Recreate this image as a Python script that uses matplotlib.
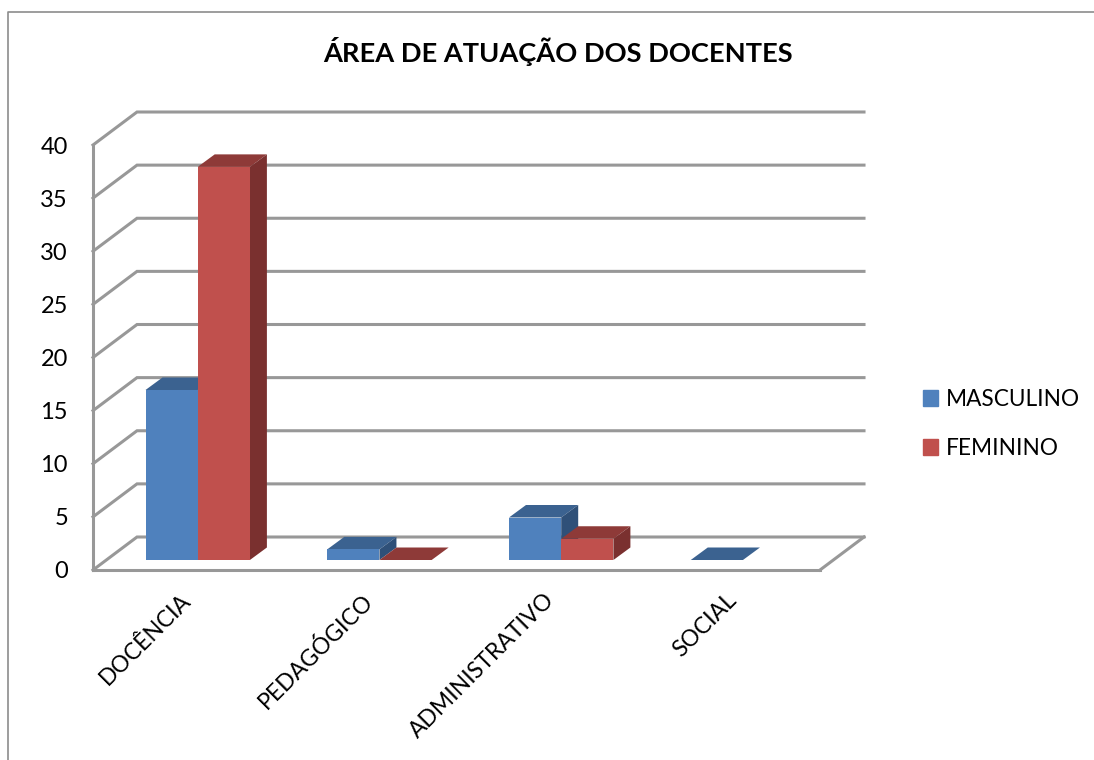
import matplotlib
matplotlib.use('Agg')
import matplotlib.pyplot as plt
from matplotlib.lines import Line2D
from matplotlib.patches import Patch

categorias = ['DOCÊNCIA', 'PEDAGÓGICO', 'ADMINISTRATIVO', 'SOCIAL']
masculino = [16, 1, 4, 0]
feminino = [37, 0, 2, None]
ticks_y = [0, 5, 10, 15, 20, 25, 30, 35, 40]

plt.rcParams['font.family'] = ['Lato', 'DejaVu Sans']

W, H = 1094, 760
GRIS = '#989898'
AZUL = ('#4F81BD', '#3B6290', '#2F5078')
ROJO = ('#C0504D', '#8E3A38', '#7A302F')

fig = plt.figure(figsize=(W / 100, H / 100), dpi=100)
fig.patch.set_facecolor('white')
# plano frontal del grafico, en pixeles de la imagen
ax = fig.add_axes([93 / W, (H - 570) / H, 727 / W, 425 / H])
ax.set_xlim(0, 4)
ax.set_ylim(0, 40)
ax.patch.set_visible(False)

px_x = 4 / 727
px_y = 40 / 425
prof_x, prof_y = 44 * px_x, 33 * px_y      # profundidad de las paredes
bar_x, bar_y = 17 * px_x, 12.5 * px_y      # profundidad de las barras
base = 10 * px_y
ini = 52.5 * px_x
ancho = 52.2 * px_x

# marco exterior
fig.add_artist(Line2D([8 / W, 8 / W, 1], [0, 1 - 12 / H, 1 - 12 / H], color='#8C8C8C', lw=1.2))

# paredes
for t in ticks_y:
    ax.plot([0, prof_x, 4 + prof_x], [t, t + prof_y, t + prof_y], color=GRIS, lw=2.2,
            clip_on=False, zorder=1, solid_joinstyle='miter')
ax.plot([4, 4 + prof_x], [0, prof_y], color=GRIS, lw=2.2, clip_on=False, zorder=1)


def barra(x, valor, colores, z):
    if valor is None:
        return
    top = base + valor
    ax.fill([x, x + ancho, x + ancho + bar_x, x + bar_x],
            [top, top, top + bar_y, top + bar_y], color=colores[1], lw=0, clip_on=False, zorder=z)
    if valor > 0:
        ax.fill([x + ancho, x + ancho + bar_x, x + ancho + bar_x, x + ancho],
                [base, base + bar_y, top + bar_y, top], color=colores[2], lw=0, clip_on=False, zorder=z)
        ax.bar(x, valor, width=ancho, bottom=base, align='edge', color=colores[0], lw=0,
               clip_on=False, zorder=z)


for i, (m, f) in enumerate(zip(masculino, feminino)):
    barra(i + ini, m, AZUL, 2)
    barra(i + ini + ancho, f, ROJO, 3)

for lado in ['top', 'right']:
    ax.spines[lado].set_visible(False)
for lado in ['left', 'bottom']:
    ax.spines[lado].set_color(GRIS)
    ax.spines[lado].set_linewidth(2.2)
    ax.spines[lado].set_zorder(1)

ax.set_yticks(ticks_y)
ax.tick_params(axis='y', length=0, pad=18, labelsize=17, labelcolor='black')
ax.set_xticks([i + 0.48 for i in range(len(categorias))])
ax.set_xticklabels(categorias, rotation=45, ha='right', rotation_mode='anchor', fontsize=16.5)
ax.tick_params(axis='x', length=0, pad=14, labelcolor='black')

fig.text(557.5 / W, 1 - 52 / H, 'ÁREA DE ATUAÇÃO DOS DOCENTES', ha='center', va='center',
         fontsize=19.6, fontweight='bold', color='black')

fig.legend(handles=[Patch(color=AZUL[0], label='MASCULINO'), Patch(color=ROJO[0], label='FEMININO')],
           loc='upper left', bbox_to_anchor=(914 / W, 1 - 380 / H), frameon=False, fontsize=16.3,
           handlelength=0.68, handleheight=0.68, handletextpad=0.35, labelspacing=1.23,
           borderpad=0.4, borderaxespad=0)

fig.savefig('out.png', dpi=100)
